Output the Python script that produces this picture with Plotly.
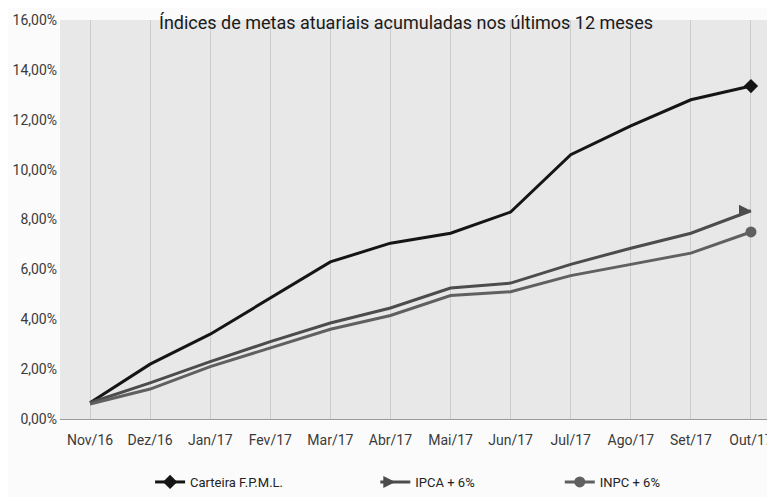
import plotly.graph_objects as go

meses = ["Nov/16", "Dez/16", "Jan/17", "Fev/17", "Mar/17", "Abr/17",
         "Mai/17", "Jun/17", "Jul/17", "Ago/17", "Set/17", "Out/17"]
carteira = [0.65, 2.2, 3.4, 4.85, 6.3, 7.05, 7.45, 8.3, 10.6, 11.75, 12.8, 13.35]
ipca = [0.65, 1.45, 2.3, 3.1, 3.85, 4.45, 5.25, 5.45, 6.2, 6.85, 7.45, 8.35]
inpc = [0.6, 1.2, 2.1, 2.85, 3.6, 4.15, 4.95, 5.1, 5.75, 6.2, 6.65, 7.5]
y_ticks = [0, 2, 4, 6, 8, 10, 12, 14, 16]
y_labels = ["0,00%", "2,00%", "4,00%", "6,00%", "8,00%", "10,00%", "12,00%", "14,00%", "16,00%"]

FONT = "Roboto, Liberation Sans, sans-serif"

series = [
    ("Carteira F.P.M.L.", carteira, "#151515", "diamond", 11, "legend", 0.126),
    ("IPCA + 6%", ipca, "#4c4c4c", "arrow-right", 12, "legend2", 0.441),
    ("INPC + 6%", inpc, "#606060", "circle", 11, "legend3", 0.699),
]

fig = go.Figure()
legends = {}
for name, vals, color, sym, msize, leg, lx in series:
    fig.add_trace(go.Scatter(x=meses, y=vals, mode="lines", showlegend=False,
                             line=dict(color=color, width=3)))
    fig.add_trace(go.Scatter(x=[meses[-1]], y=[vals[-1]], mode="markers", showlegend=False,
                             marker=dict(symbol=sym, size=msize, color=color)))
    # legend-only entry, each in its own legend box so it can be placed freely
    fig.add_trace(go.Scatter(x=[None], y=[None], mode="lines+markers", name=name, legend=leg,
                             line=dict(color=color, width=3),
                             marker=dict(symbol=sym, size=msize, color=color)))
    legends[leg] = dict(orientation="h", x=lx, y=-0.158, xanchor="left", yanchor="middle",
                        font=dict(family=FONT, size=13, color="#222222"),
                        bgcolor="rgba(0,0,0,0)")

fig.add_annotation(text="Índices de metas atuariais acumuladas nos últimos 12 meses",
                   xref="paper", yref="paper", x=0.484, y=1.0, xanchor="center", yanchor="middle",
                   yshift=-2, showarrow=False,
                   font=dict(family=FONT, size=18, color="#1a1a1a"))

fig.update_xaxes(type="category", range=[-0.5, 11.4], showgrid=True, gridcolor="#cccccc",
                 gridwidth=1, showline=True, linecolor="#9a9a9a", ticks="", automargin=False,
                 ticklabelstandoff=8,
                 tickfont=dict(family=FONT, size=14, color="#3a3a3a"))
fig.update_yaxes(range=[0, 16], tickvals=y_ticks, ticktext=y_labels, showgrid=False,
                 zeroline=False, ticks="", automargin=False, ticklabelstandoff=2,
                 tickfont=dict(family=FONT, size=14, color="#3a3a3a"))

# page body adds an 8px offset, so the figure is sized 767x489
fig.update_layout(
    width=767, height=489,
    margin=dict(l=52, r=0, t=12, b=77),
    paper_bgcolor="#fbfbfb",
    plot_bgcolor="#e8e8e8",
    font=dict(family=FONT, color="#333333"),
    **legends,
)

fig.write_html("out.html")
